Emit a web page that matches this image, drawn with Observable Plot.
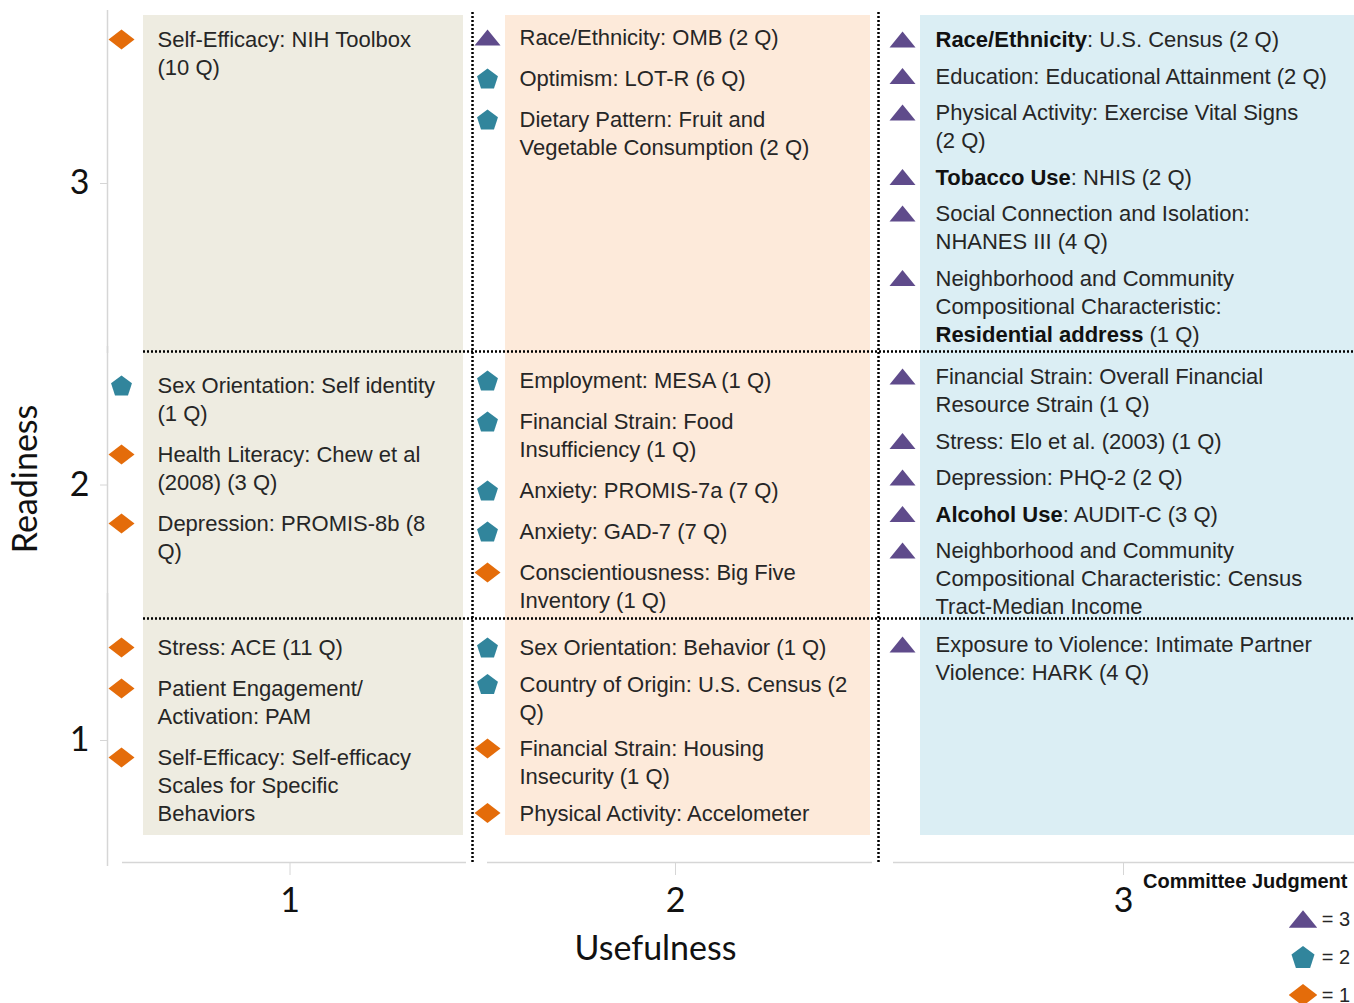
<!DOCTYPE html>
<html>
<head>
<meta charset="utf-8">
<script src="https://cdn.jsdelivr.net/npm/d3@7"></script>
<script src="https://cdn.jsdelivr.net/npm/@observablehq/plot@0.6"></script>
<style>
  html, body { margin: 0; padding: 0; background: #fff; overflow: hidden; }
  #wrap { position: relative; width: 1354px; height: 1003px; }
  #legend { position: absolute; left: 1143px; top: 869px; width: 207px;
            font-family: "Liberation Sans", Arial, sans-serif; color: #262626; }
  #legend .title { font-weight: bold; font-size: 20px; line-height: 24px; color: #111; white-space: nowrap; }
  #legend .rows { margin-top: 7px; }
  #legend .row { display: flex; justify-content: flex-end; align-items: center; height: 38px; gap: 5px; font-size: 20px; }
</style>
</head>
<body>
<div id="wrap"><div id="chart"></div><div id="legend"></div></div>
<script>
// ---------------- data ----------------
const measures = [
  "Self-Efficacy: NIH Toolbox\n(10 Q)",
  "Race/Ethnicity: OMB (2 Q)",
  "Optimism: LOT-R (6 Q)",
  "Dietary Pattern: Fruit and\nVegetable Consumption (2 Q)",
  "**Race/Ethnicity**: U.S. Census (2 Q)",
  "Education: Educational Attainment (2 Q)",
  "Physical Activity: Exercise Vital Signs\n(2 Q)",
  "**Tobacco Use**: NHIS (2 Q)",
  "Social Connection and Isolation:\nNHANES III (4 Q)",
  "Neighborhood and Community\nCompositional Characteristic:\n**Residential address** (1 Q)",
  "Sex Orientation: Self identity\n(1 Q)",
  "Health Literacy: Chew et al\n(2008) (3 Q)",
  "Depression: PROMIS-8b (8\nQ)",
  "Employment: MESA (1 Q)",
  "Financial Strain: Food\nInsufficiency (1 Q)",
  "Anxiety: PROMIS-7a (7 Q)",
  "Anxiety: GAD-7 (7 Q)",
  "Conscientiousness: Big Five\nInventory (1 Q)",
  "Financial Strain: Overall Financial\nResource Strain (1 Q)",
  "Stress: Elo et al. (2003) (1 Q)",
  "Depression: PHQ-2 (2 Q)",
  "**Alcohol Use**: AUDIT-C (3 Q)",
  "Neighborhood and Community\nCompositional Characteristic: Census\nTract-Median Income",
  "Stress: ACE (11 Q)",
  "Patient Engagement/\nActivation: PAM",
  "Self-Efficacy: Self-efficacy\nScales for Specific\nBehaviors",
  "Sex Orientation: Behavior (1 Q)",
  "Country of Origin: U.S. Census (2\nQ)",
  "Financial Strain: Housing\nInsecurity (1 Q)",
  "Physical Activity: Accelometer",
  "Exposure to Violence: Intimate Partner\nViolence: HARK (4 Q)"
];
const usefulness = [1, 2,2,2, 3,3,3,3,3,3, 1,1,1, 2,2,2,2,2, 3,3,3,3,3, 1,1,1, 2,2,2,2, 3];
const readiness  = [3, 3,3,3, 3,3,3,3,3,3, 2,2,2, 2,2,2,2,2, 2,2,2,2,2, 1,1,1, 1,1,1,1, 1];
const judgment   = [1, 3,2,2, 3,3,3,3,3,3, 2,1,1, 2,2,2,2,1, 3,3,3,3,3, 1,1,1, 2,2,1,1, 3];
const usefulnessTicks = [1, 2, 3];
const readinessTicks = [1, 2, 3];
const judgmentLevels = [3, 2, 1];
const legendTitle = "Committee Judgment";

// ---------------- layout / style ----------------
// cells have unequal widths/heights: the scales warp each category band
const xBreaks = [0.5, 1.5, 2.5, 3.5], xPixels = [107, 472, 878, 1368];
const yBreaks = [0.5, 1.5, 2.5, 3.5], yPixels = [862, 618, 351, 15];
const xWarp = d3.scaleLinear(xBreaks, xPixels), yWarp = d3.scaleLinear(yBreaks, yPixels);
const colors = ["#5f4b8b", "#31859c", "#e46c0a"];
const bgColors = ["#eeece1", "#fdeada", "#dbeef4"];
const bgInsetL = [36, 33, 42], bgInsetR = [9, 8, 0];
const markerPad = [14, 15, 24], textPad = [50, 47, 57];
const cellTop = {"3,1":24,"3,2":22,"3,3":24,"2,1":34,"2,2":29,"2,3":25,"1,1":29,"1,2":29,"1,3":26};
const cellGap = {"3,1":41,"3,2":41,"3,3":36.5,"2,1":41,"2,2":41,"2,3":36.5,"1,1":41,"1,2":36.5,"1,3":36.5};
const LINE = 28, FONT = 22;
const bracket = "#d6d6d6";
const axisFont = "Lato, 'Open Sans', sans-serif";
const textFont = "'Liberation Sans', Arial, sans-serif";

// custom symbols
const tri = {draw(c, size) { const s = Math.sqrt(size / Math.PI) / 10;
  c.moveTo(0, -8 * s); c.lineTo(13 * s, 8 * s); c.lineTo(-13 * s, 8 * s); c.closePath(); }};
const pent = {draw(c, size) { const s = Math.sqrt(size / Math.PI) / 10; const R = 11 * s;
  const off = (R - R * Math.cos(Math.PI / 5)) / 2;
  for (let k = 0; k < 5; k++) { const a = -Math.PI / 2 + k * 2 * Math.PI / 5;
    const x = R * Math.cos(a), y = R * Math.sin(a) + off; k ? c.lineTo(x, y) : c.moveTo(x, y); }
  c.closePath(); }};
const diam = {draw(c, size) { const s = Math.sqrt(size / Math.PI) / 10;
  c.moveTo(0, -10 * s); c.lineTo(13 * s, 0); c.lineTo(0, 10 * s); c.lineTo(-13 * s, 0); c.closePath(); }};
const symbols = [tri, pent, diam];
const symbolOf = j => symbols[judgmentLevels.indexOf(j)];
const colorOf = j => colors[judgmentLevels.indexOf(j)];

// positions inside each cell, derived from the cell and the item order
const cursor = {};
const items = measures.map((label, i) => {
  const u = usefulness[i], r = readiness[i], key = r + "," + u;
  const lines = label.split("\n").length;
  if (cursor[key] === undefined) cursor[key] = yWarp(r + 0.5) + cellTop[key];
  const cy = cursor[key];
  cursor[key] = cy + (lines - 1) * LINE + cellGap[key];
  return {
    label, u, r, j: judgment[i],
    tx: xWarp.invert(xWarp(u - 0.5) + textPad[u - 1]),
    mx: xWarp.invert(xWarp(u - 0.5) + markerPad[u - 1]),
    ty: yWarp.invert(cy - 12),
    my: yWarp.invert(cy)
  };
});

const cols = usefulnessTicks, rows = readinessTicks;

const chart = Plot.plot({
  width: 1354,
  height: 1003,
  marginLeft: 107, marginRight: 151, marginTop: 95, marginBottom: 141,
  x: {transform: xWarp, domain: [xPixels[0], xPixels[3]], range: [xPixels[0], xPixels[3]]},
  y: {transform: yWarp, domain: [yPixels[0], yPixels[3]], range: [yPixels[0], yPixels[3]]},
  marks: [
    ...cols.map(u => Plot.rect([u], {
      x1: d => d - 0.5, x2: d => d + 0.5, y1: () => yBreaks[0], y2: () => yBreaks[3],
      fill: bgColors[u - 1], insetLeft: bgInsetL[u - 1], insetRight: bgInsetR[u - 1], insetBottom: 27
    })),
    // left brackets
    Plot.ruleX(rows.filter(r => r > 1), {x: () => xBreaks[0], y1: r => r - 0.5, y2: r => r + 0.5,
      stroke: bracket, strokeWidth: 1.5, insetTop: 2, insetBottom: 5}),
    Plot.ruleX(rows.filter(r => r === 1), {x: () => xBreaks[0], y1: r => r - 0.5, y2: r => r + 0.5,
      stroke: bracket, strokeWidth: 1.5, insetTop: 4, insetBottom: 25}),
    // bottom brackets
    Plot.ruleY(cols, {y: () => yBreaks[0], x1: u => u - 0.5, x2: u => u + 0.5,
      stroke: bracket, strokeWidth: 1.5, insetLeft: 15, insetRight: 6}),
    // dotted separators
    Plot.ruleX([1.5, 2.5], {x: d => d, y1: () => yBreaks[0], y2: () => yBreaks[3],
      stroke: "#000", strokeWidth: 2.5, strokeDasharray: "2,2", insetBottom: 4}),
    Plot.ruleY([1.5, 2.5], {y: d => d, x1: () => xBreaks[0], x2: () => xBreaks[3],
      stroke: "#000", strokeWidth: 2.5, strokeDasharray: "2,2", insetLeft: 36}),
    ...judgmentLevels.map(lv => Plot.dot(items.filter(d => d.j === lv),
      {x: "mx", y: "my", symbol: symbolOf(lv), fill: colorOf(lv), r: 10, stroke: "none"})),
    Plot.text(items, {x: "tx", y: "ty", text: "label", textAnchor: "start", lineAnchor: "top",
      fontSize: FONT, lineHeight: LINE / FONT, fontFamily: textFont, fill: "#262626"}),
    // axis ticks are given on the warped scale and labelled with their category value
    Plot.axisX({ticks: usefulnessTicks.map(xWarp), tickFormat: d => String(Math.round(xWarp.invert(d))),
      tickSize: 13, tickPadding: 12,
      fontSize: 34, fontFamily: axisFont, stroke: bracket, fill: "#111",
      label: "Usefulness", labelAnchor: "center", labelOffset: 97, labelArrow: "none"}),
    Plot.axisY({ticks: readinessTicks.map(yWarp), tickFormat: d => String(Math.round(yWarp.invert(d))),
      tickSize: 7, tickPadding: 11,
      fontSize: 34, fontFamily: axisFont, stroke: bracket, fill: "#111",
      label: "Readiness", labelAnchor: "center", labelOffset: 95, labelArrow: "none"})
  ]
});

// bold segments marked with ** in the labels
chart.querySelectorAll("text, tspan").forEach(node => {
  if (node.children.length === 0 && node.textContent.includes("**")) {
    const parts = node.textContent.split("**");
    node.textContent = "";
    parts.forEach((p, i) => {
      if (!p) return;
      const t = document.createElementNS("http://www.w3.org/2000/svg", "tspan");
      t.textContent = p;
      if (i % 2 === 1) { t.setAttribute("font-weight", "bold"); t.setAttribute("fill", "#111"); }
      node.appendChild(t);
    });
  }
});
document.getElementById("chart").appendChild(chart);

// legend
const legend = document.getElementById("legend");
const title = document.createElement("div");
title.className = "title"; title.textContent = legendTitle;
legend.appendChild(title);
const rowsDiv = document.createElement("div"); rowsDiv.className = "rows";
judgmentLevels.forEach((lv, i) => {
  const row = document.createElement("div"); row.className = "row";
  const svg = d3.create("svg").attr("width", 28).attr("height", 28);
  svg.append("path").attr("transform", "translate(14,14)")
    .attr("d", d3.symbol(symbols[i], Math.PI * 11 * 11)()).attr("fill", colors[i]);
  row.appendChild(svg.node());
  const lab = document.createElement("span"); lab.textContent = "= " + lv;
  row.appendChild(lab);
  rowsDiv.appendChild(row);
});
legend.appendChild(rowsDiv);
</script>
</body>
</html>
